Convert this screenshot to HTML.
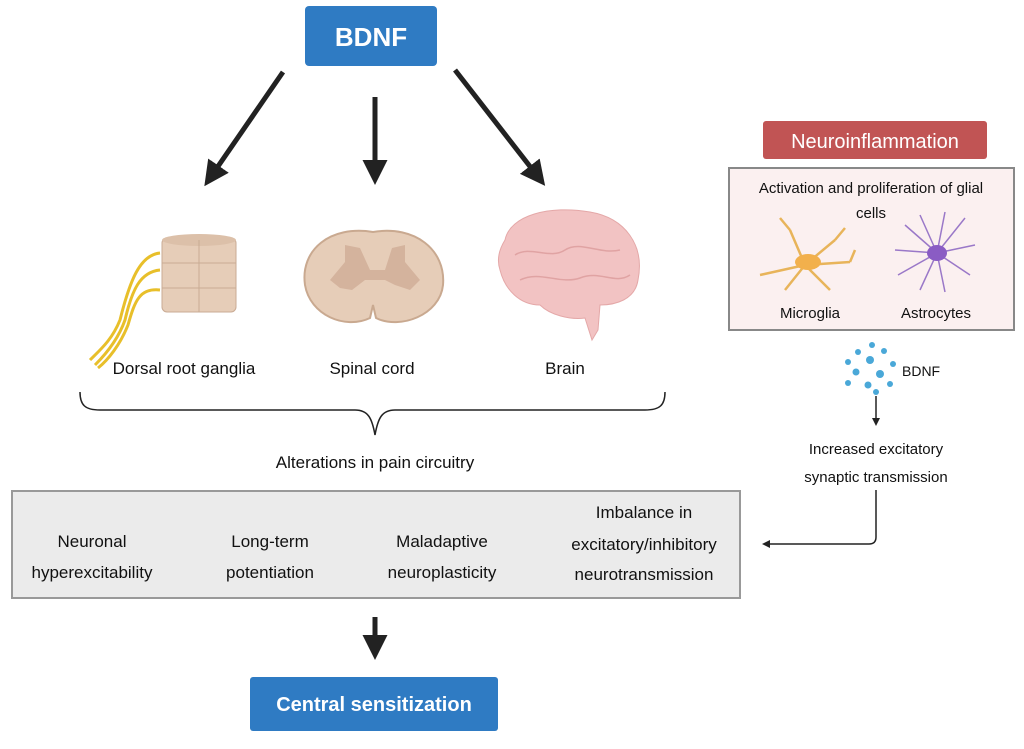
<!DOCTYPE html>
<html><head><meta charset="utf-8"><style>
body{margin:0;background:#fff;}
svg{display:block;font-family:"Liberation Sans",sans-serif;}
</style></head><body>
<svg width="1024" height="749" viewBox="0 0 1024 749" xmlns="http://www.w3.org/2000/svg">
<defs>
<marker id="ah" markerWidth="5" markerHeight="5" refX="3" refY="2.5" orient="auto" markerUnits="strokeWidth"><path d="M0,0 L5,2.5 L0,5 z" fill="#222"/></marker>
<marker id="as" markerWidth="8" markerHeight="8" refX="6" refY="4" orient="auto" markerUnits="userSpaceOnUse"><path d="M0,0 L8,4 L0,8 z" fill="#222"/></marker>
</defs>
<rect x="305" y="6" width="132" height="60" rx="4" fill="#2f7bc3"/>
<text x="371" y="46" font-size="26" font-weight="bold" fill="#fff" text-anchor="middle">BDNF</text>
<g stroke="#222" stroke-width="5" fill="none">
<line x1="283" y1="72" x2="210" y2="178" marker-end="url(#ah)"/>
<line x1="375" y1="97" x2="375" y2="175" marker-end="url(#ah)"/>
<line x1="455" y1="70" x2="539" y2="178" marker-end="url(#ah)"/>
</g>
<rect x="162" y="238" width="74" height="74" rx="5" fill="#e6cdb8" stroke="#c9ab94"/>
<ellipse cx="199" cy="240" rx="37" ry="6" fill="#dcc0a9"/>
<line x1="199" y1="240" x2="199" y2="312" stroke="#c9ab94"/>
<line x1="162" y1="263" x2="236" y2="263" stroke="#c9ab94"/>
<line x1="162" y1="288" x2="236" y2="288" stroke="#c9ab94"/>
<g stroke="#e8bf2a" stroke-width="3" fill="none">
<path d="M160,253 C140,255 130,280 120,320 C112,340 100,350 90,360"/>
<path d="M160,270 C140,272 132,290 125,320 C118,340 105,355 95,365"/>
<path d="M160,290 C140,288 135,300 128,325 C120,345 108,360 98,368"/>
</g>
<path d="M373,232 C330,225 300,250 305,285 C310,315 345,330 370,318 L373,305 L376,318 C400,330 440,315 443,285 C446,250 415,225 373,232Z" fill="#e6cdb8" stroke="#c9a990" stroke-width="2"/>
<path d="M345,245 L360,248 L370,270 L385,270 L392,248 L405,245 L405,262 L420,280 L410,290 L395,285 L385,280 L365,280 L352,290 L340,288 L330,280 L345,262Z" fill="#d4b39d"/>
<path d="M505,240 C510,215 550,205 590,212 C625,218 645,245 638,280 C635,300 615,305 600,305 L598,330 L592,340 L585,318 C570,320 550,315 540,305 C520,305 505,290 500,270 C496,258 500,248 505,240Z" fill="#f2c3c3" stroke="#e4a8a8"/>
<g stroke="#e0a3a3" fill="none" stroke-width="1.5"><path d="M515,255 C530,245 550,260 565,250 C580,240 600,255 620,250"/><path d="M520,280 C540,270 560,285 580,278 C600,270 615,285 630,275"/></g>
<g font-size="17" fill="#111" text-anchor="middle">
<text x="184" y="374">Dorsal root ganglia</text>
<text x="372" y="374">Spinal cord</text>
<text x="565" y="374">Brain</text>
<text x="375" y="468">Alterations in pain circuitry</text>
</g>
<path d="M80,392 C80,405 85,410 100,410 L355,410 C368,410 372,418 375,435 C378,418 382,410 395,410 L645,410 C660,410 665,405 665,392" fill="none" stroke="#222" stroke-width="1.5"/>
<rect x="12" y="491" width="728" height="107" fill="#ebebeb" stroke="#999" stroke-width="2"/>
<g font-size="17" fill="#111" text-anchor="middle">
<text x="92" y="547">Neuronal</text><text x="92" y="578">hyperexcitability</text>
<text x="270" y="547">Long-term</text><text x="270" y="578">potentiation</text>
<text x="442" y="547">Maladaptive</text><text x="442" y="578">neuroplasticity</text>
<text x="644" y="518">Imbalance in</text><text x="644" y="550">excitatory/inhibitory</text><text x="644" y="580">neurotransmission</text>
</g>
<line x1="375" y1="617" x2="375" y2="650" stroke="#222" stroke-width="5" marker-end="url(#ah)"/>
<rect x="250" y="677" width="248" height="54" rx="3" fill="#2f7bc3"/>
<text x="374" y="711" font-size="20" font-weight="bold" fill="#fff" text-anchor="middle">Central sensitization</text>
<rect x="763" y="121" width="224" height="38" rx="3" fill="#c15454"/>
<text x="875" y="148" font-size="20" fill="#fff" text-anchor="middle">Neuroinflammation</text>
<rect x="729" y="168" width="285" height="162" fill="#fbf0f0" stroke="#888" stroke-width="2"/>
<text x="871" y="193" font-size="15" fill="#111" text-anchor="middle">Activation and proliferation of glial</text>
<text x="871" y="218" font-size="15" fill="#111" text-anchor="middle">cells</text>
<g stroke="#e8b45a" stroke-width="2.5" fill="none">
<path d="M805,265 L760,275 M805,265 L790,230 M805,265 L835,240 M805,265 L850,262 M805,265 L830,290 M805,265 L785,290 M790,230 L780,218 M835,240 L845,228 M850,262 L855,250"/>
</g>
<ellipse cx="808" cy="262" rx="13" ry="8" fill="#f2b04c"/>
<g stroke="#9a78c8" stroke-width="1.5" fill="none">
<path d="M937,253 L905,225 M937,253 L920,215 M937,253 L945,212 M937,253 L965,218 M937,253 L975,245 M937,253 L970,275 M937,253 L945,292 M937,253 L920,290 M937,253 L898,275 M937,253 L895,250"/>
</g>
<ellipse cx="937" cy="253" rx="10" ry="8" fill="#8a5cc4"/>
<text x="810" y="318" font-size="15" fill="#111" text-anchor="middle">Microglia</text>
<text x="936" y="318" font-size="15" fill="#111" text-anchor="middle">Astrocytes</text>
<g fill="#4aa8d8">
<circle cx="872" cy="345" r="3"/><circle cx="858" cy="352" r="3"/><circle cx="884" cy="351" r="3"/><circle cx="848" cy="362" r="3"/><circle cx="870" cy="360" r="4"/><circle cx="893" cy="364" r="3"/><circle cx="856" cy="372" r="3.5"/><circle cx="880" cy="374" r="4"/><circle cx="848" cy="383" r="3"/><circle cx="868" cy="385" r="3.5"/><circle cx="890" cy="384" r="3"/><circle cx="876" cy="392" r="3"/>
</g>
<text x="902" y="376" font-size="14" fill="#111">BDNF</text>
<line x1="876" y1="396" x2="876" y2="424" stroke="#222" stroke-width="1.5" marker-end="url(#as)"/>
<text x="876" y="454" font-size="15" fill="#111" text-anchor="middle">Increased excitatory</text>
<text x="876" y="482" font-size="15" fill="#111" text-anchor="middle">synaptic transmission</text>
<path d="M876,490 L876,537 Q876,544 869,544 L764,544" fill="none" stroke="#222" stroke-width="1.5" marker-end="url(#as)"/>
</svg>
</body></html>
